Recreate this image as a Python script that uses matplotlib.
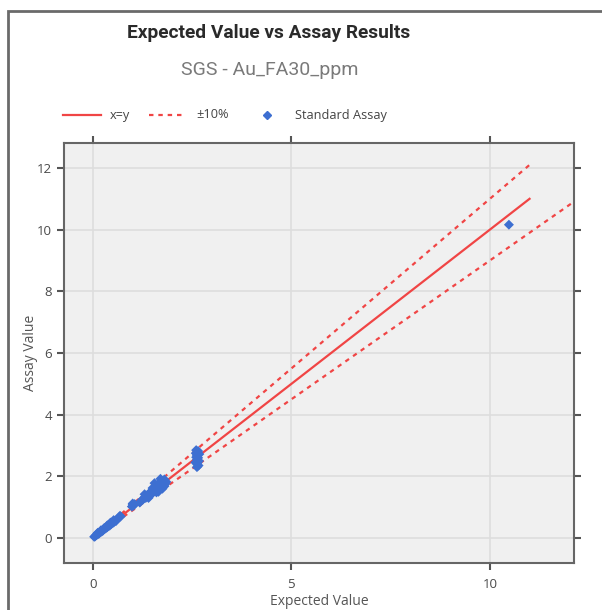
import matplotlib
matplotlib.use("Agg")
import matplotlib.pyplot as plt
from matplotlib.lines import Line2D
from matplotlib.patches import Rectangle

plt.rcParams['font.family'] = ['Open Sans', 'DejaVu Sans']

title = "Expected Value vs Assay Results"
subtitle = "SGS - Au_FA30_ppm"
x_label = "Expected Value"
y_label = "Assay Value"
legend_labels = ["x=y", "\u00b110%", "Standard Assay"]

expected = [0.03, 0.05, 0.07, 0.09, 0.1, 0.12, 0.14, 0.15, 0.17, 0.19, 0.2, 0.22, 0.24,
            0.25, 0.27, 0.29, 0.3, 0.32, 0.34, 0.36, 0.38, 0.4, 0.42, 0.44, 0.46, 0.48,
            0.5, 0.52, 0.55, 0.58, 0.12, 0.2, 0.28, 0.36, 0.44, 0.52,
            0.66, 0.68, 0.7,
            0.98, 1.0, 1.02, 1.05, 1.0,
            1.18, 1.22, 1.26, 1.3, 1.33, 1.36, 1.4, 1.42, 1.45, 1.48, 1.5, 1.52, 1.55,
            1.58, 1.6, 1.62, 1.65, 1.68, 1.7, 1.72, 1.75, 1.78, 1.8, 1.82, 1.85,
            1.3, 1.4, 1.5, 1.6, 1.7, 1.8, 1.55, 1.65, 1.75,
            2.58, 2.6, 2.62, 2.62, 2.63, 2.63, 2.64, 2.64, 2.65, 2.65, 2.62, 2.66,
            2.68, 2.6, 2.67, 2.59,
            10.48]
assay = [0.04, 0.05, 0.08, 0.1, 0.12, 0.12, 0.16, 0.14, 0.18, 0.2, 0.22, 0.21, 0.26,
         0.24, 0.28, 0.3, 0.32, 0.31, 0.36, 0.35, 0.4, 0.42, 0.4, 0.46, 0.45, 0.5,
         0.52, 0.5, 0.56, 0.55, 0.17, 0.25, 0.32, 0.41, 0.5, 0.58,
         0.68, 0.72, 0.7,
         1.02, 1.08, 1.05, 1.1, 1.12,
         1.15, 1.22, 1.25, 1.32, 1.3, 1.38, 1.42, 1.35, 1.5, 1.45, 1.55, 1.48, 1.6,
         1.52, 1.7, 1.58, 1.75, 1.62, 1.8, 1.66, 1.85, 1.7, 1.9, 1.75, 1.82,
         1.42, 1.3, 1.62, 1.48, 1.92, 1.68, 1.78, 1.5, 1.6,
         2.45, 2.62, 2.3, 2.55, 2.7, 2.4, 2.76, 2.5, 2.82, 2.6, 2.68, 2.35,
         2.72, 2.85, 2.5, 2.75,
         10.16]

xy_line_x = [0, 11]
upper_x = [0, 11]
lower_x = [0, 13.5]
band = 0.10

fig = plt.figure(figsize=(6.02, 6.10), dpi=100)

# outer frame
fig.patches.append(Rectangle((8/602, -0.1), 1.2, 1 - 11/610 + 0.1, transform=fig.transFigure,
                             fill=False, edgecolor='#6a6a6a', linewidth=2, zorder=0))

ax = fig.add_axes([64/602, 1 - 563/610, (574-64)/602, (563-143)/610])
ax.set_facecolor('#f0f0f0')

red = '#f04545'
ax.plot(xy_line_x, xy_line_x, color=red, lw=1.6, zorder=3)
ax.plot(upper_x, [v * (1 + band) for v in upper_x], color=red, lw=1.6, ls=(0, (2, 2.2)), zorder=3)
ax.plot(lower_x, [v * (1 - band) for v in lower_x], color=red, lw=1.6, ls=(0, (2, 2.2)), zorder=3)
ax.scatter(expected, assay, marker='D', s=26, color='#3d6fd1', edgecolors='none', zorder=4)

ax.set_xlim(-0.73, 12.12)
ax.set_ylim(-0.81, 12.81)
ax.set_xticks([0, 5, 10])
ax.set_yticks([0, 2, 4, 6, 8, 10, 12])
ax.grid(True, color='#dddddd', lw=1.2)
ax.set_axisbelow(True)
for s in ax.spines.values():
    s.set_color('#666666')
    s.set_linewidth(1.5)
ax.tick_params(axis='both', direction='out', length=5, width=1.5, color='#555555',
               labelcolor='#4a4a4a', labelsize=9.5, top=True, right=True)
ax.tick_params(axis='x', pad=6)

ax.set_xlabel(x_label, fontsize=10, color='#555555', labelpad=2)
ax.set_ylabel(y_label, fontsize=10, color='#555555', labelpad=-1)

fig.text(269/602, 1 - 33/610, title, ha='center', va='center', fontsize=13.8,
         fontweight='bold', color='#2a2a2a', family=['Roboto', 'DejaVu Sans'])
fig.text(270/602, 1 - 70/610, subtitle, ha='center', va='center', fontsize=14,
         color='#7a7a7a', family=['Roboto', 'DejaVu Sans'])

# legend
ly = 1 - 115/610
fig.add_artist(Line2D([63/602, 101/602], [ly, ly], color=red, lw=1.6, transform=fig.transFigure))
fig.text(110/602, ly, legend_labels[0], va='center', ha='left', fontsize=9.2, color='#444444')
fig.add_artist(Line2D([149/602, 186/602], [ly, ly], color=red, lw=1.6, ls=(0, (2, 2.2)),
                      transform=fig.transFigure))
fig.text(196/602, ly, legend_labels[1], va='center', ha='left', fontsize=9.2, color='#444444')
fig.add_artist(Line2D([267/602], [ly], marker='D', markersize=4, color='#3d6fd1', lw=0,
                      transform=fig.transFigure))
fig.text(295/602, ly, legend_labels[2], va='center', ha='left', fontsize=9.2, color='#444444')

fig.savefig('out.png', dpi=100)
